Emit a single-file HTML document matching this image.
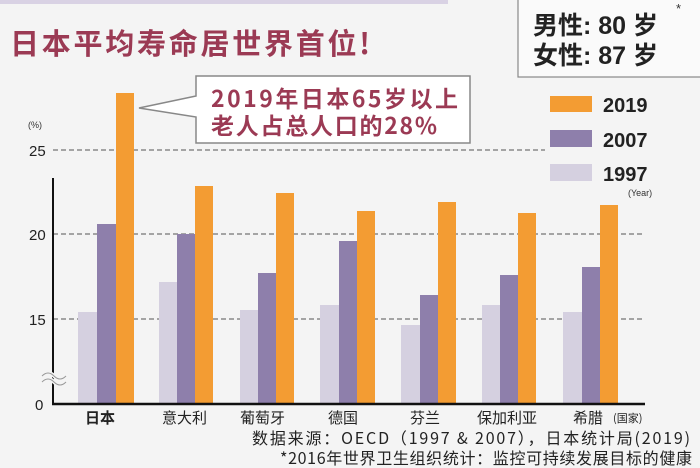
<!DOCTYPE html>
<html><head><meta charset="utf-8"><style>
html,body{margin:0;padding:0;background:#f4f4f4;}
body{width:700px;height:468px;overflow:hidden;position:relative;font-family:"Liberation Sans","Noto Sans CJK SC",sans-serif;}
</style></head><body>
<svg width="700" height="468" viewBox="0 0 700 468" xmlns="http://www.w3.org/2000/svg" style="position:absolute;left:0;top:0">
<rect x="0" y="0" width="700" height="468" fill="#f4f4f4"/>
<rect x="0" y="0" width="448" height="4" fill="#d9d2e4"/>
<rect x="518" y="-2" width="190" height="79" fill="#fafafa" stroke="#888" stroke-width="1.2"/>
<g font-family="Liberation Sans,Noto Sans CJK SC,sans-serif" font-weight="bold" fill="#222" font-size="25">
<text x="533" y="34">男性: 80 岁</text>
<text x="533" y="64">女性: 87 岁</text>
</g>
<text x="676" y="13" font-size="13" fill="#333">*</text>
<text x="10" y="54" font-size="29" font-weight="bold" fill="#9b3a54" font-family="Noto Sans CJK SC,sans-serif" textLength="360" lengthAdjust="spacing">日本平均寿命居世界首位!</text>
<g stroke="#555" stroke-width="1" stroke-dasharray="5,3">
<line x1="53" y1="150" x2="545" y2="150"/>
<line x1="53" y1="234" x2="645" y2="234"/>
<line x1="53" y1="319" x2="645" y2="319"/>
</g>
<g font-size="15" fill="#222" font-family="Liberation Sans,sans-serif">
<text x="29" y="156">25</text><text x="29" y="240">20</text><text x="29" y="325">15</text><text x="35" y="410">0</text>
</g>
<text x="28" y="128" font-size="9" fill="#333">(%)</text>
<g>
<rect x="78" y="312" width="19" height="91" fill="#d5d0e0"/><rect x="97" y="224" width="19" height="179" fill="#8e7fab"/><rect x="116" y="93" width="18" height="310" fill="#f39c33"/>
<rect x="159" y="282" width="18" height="121" fill="#d5d0e0"/><rect x="177" y="234" width="18" height="169" fill="#8e7fab"/><rect x="195" y="186" width="18" height="217" fill="#f39c33"/>
<rect x="240" y="310" width="18" height="93" fill="#d5d0e0"/><rect x="258" y="273" width="18" height="130" fill="#8e7fab"/><rect x="276" y="193" width="18" height="210" fill="#f39c33"/>
<rect x="320" y="305" width="19" height="98" fill="#d5d0e0"/><rect x="339" y="241" width="18" height="162" fill="#8e7fab"/><rect x="357" y="211" width="18" height="192" fill="#f39c33"/>
<rect x="401" y="325" width="19" height="78" fill="#d5d0e0"/><rect x="420" y="295" width="18" height="108" fill="#8e7fab"/><rect x="438" y="202" width="18" height="201" fill="#f39c33"/>
<rect x="482" y="305" width="18" height="98" fill="#d5d0e0"/><rect x="500" y="275" width="18" height="128" fill="#8e7fab"/><rect x="518" y="213" width="18" height="190" fill="#f39c33"/>
<rect x="563" y="312" width="19" height="91" fill="#d5d0e0"/><rect x="582" y="267" width="18" height="136" fill="#8e7fab"/><rect x="600" y="205" width="18" height="198" fill="#f39c33"/>
</g>
<line x1="53" y1="178" x2="53" y2="404" stroke="#111" stroke-width="2"/>
<line x1="52" y1="404" x2="645" y2="404" stroke="#111" stroke-width="2.5"/>
<path d="M42 376 q6 -6 12 0 t12 0 M42 382 q6 -6 12 0 t12 0" stroke="#f4f4f4" stroke-width="4" fill="none"/>
<path d="M42 376 q6 -6 12 0 t12 0 M42 382 q6 -6 12 0 t12 0" stroke="#999" stroke-width="1" fill="none"/>
<path d="M196 76 H470 V143 H196 V117 L139 108 L196 96 Z" fill="#fff" stroke="#888" stroke-width="1.5"/>
<g font-size="23" fill="#9b3a54" font-family="Noto Sans CJK SC,sans-serif" font-weight="bold">
<text x="211" y="107" textLength="247" lengthAdjust="spacing">2019年日本65岁以上</text>
<text x="211" y="134" textLength="226" lengthAdjust="spacing">老人占总人口的28%</text>
</g>
<rect x="550" y="96" width="42" height="16" fill="#f39c33"/>
<rect x="550" y="130" width="42" height="17" fill="#8e7fab"/>
<rect x="550" y="164" width="42" height="17" fill="#d5d0e0"/>
<g font-size="20" font-weight="bold" fill="#222">
<text x="603" y="112">2019</text><text x="603" y="147">2007</text><text x="603" y="181">1997</text>
</g>
<text x="628" y="196" font-size="9" fill="#333">(Year)</text>
<g font-size="15" fill="#222" font-family="Noto Sans CJK SC,sans-serif">
<text x="85" y="423" font-weight="bold">日本</text>
<text x="162" y="423">意大利</text>
<text x="240" y="423">葡萄牙</text>
<text x="328" y="423">德国</text>
<text x="410" y="423">芬兰</text>
<text x="477" y="423">保加利亚</text>
<text x="573" y="423">希腊</text>
<text x="613" y="422" font-size="11">(国家)</text>
<text x="252" y="444" font-size="16" textLength="438" lengthAdjust="spacing">数据来源：OECD（1997 &amp; 2007），日本统计局(2019)</text>
<text x="280" y="464" font-size="16" textLength="412" lengthAdjust="spacing">*2016年世界卫生组织统计：监控可持续发展目标的健康</text>
</g>
</svg>
</body></html>
